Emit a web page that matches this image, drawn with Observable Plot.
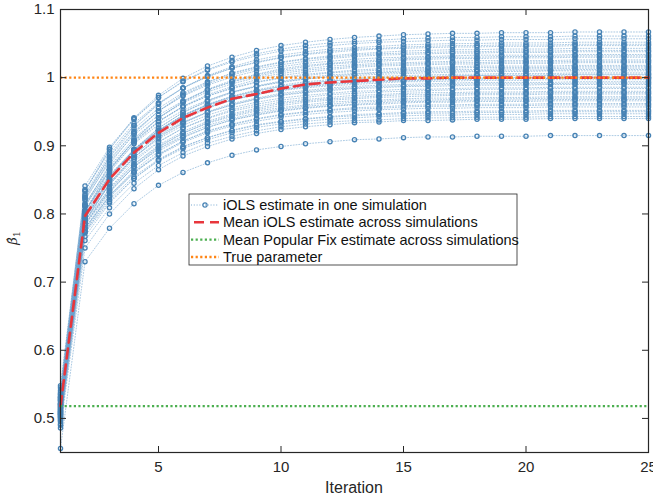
<!DOCTYPE html>
<html><head><meta charset="utf-8">
<script src="https://cdn.jsdelivr.net/npm/d3@7"></script>
<script src="https://cdn.jsdelivr.net/npm/@observablehq/plot@0.6"></script>
<style>body{margin:0;background:#fff;} svg{font-family:"Liberation Sans",Arial,Helvetica,sans-serif;}</style>
</head><body><div id="chart"></div>
<script>
const iterations = [1,2,3,4,5,6,7,8,9,10,11,12,13,14,15,16,17,18,19,20,21,22,23,24,25];
const sim01 = [0.545,0.833,0.895,0.941,0.974,0.999,1.017,1.030,1.040,1.047,1.052,1.056,1.059,1.061,1.063,1.064,1.065,1.065,1.066,1.066,1.066,1.067,1.067,1.067,1.067];
const sim02 = [0.538,0.841,0.898,0.940,0.971,0.994,1.011,1.023,1.032,1.039,1.043,1.047,1.050,1.052,1.053,1.054,1.055,1.055,1.056,1.056,1.056,1.057,1.057,1.057,1.057];
const sim03 = [0.531,0.824,0.884,0.929,0.961,0.985,1.003,1.016,1.026,1.033,1.038,1.042,1.044,1.046,1.048,1.049,1.050,1.050,1.051,1.051,1.051,1.052,1.052,1.052,1.052];
const sim04 = [0.548,0.835,0.891,0.933,0.963,0.985,1.001,1.014,1.022,1.029,1.034,1.037,1.040,1.042,1.043,1.044,1.045,1.045,1.046,1.046,1.046,1.047,1.047,1.047,1.047];
const sim05 = [0.522,0.812,0.873,0.918,0.951,0.976,0.993,1.007,1.016,1.023,1.028,1.032,1.035,1.037,1.039,1.040,1.041,1.041,1.042,1.042,1.042,1.043,1.043,1.043,1.043];
const sim06 = [0.535,0.820,0.878,0.920,0.951,0.974,0.991,1.004,1.013,1.019,1.024,1.028,1.031,1.033,1.034,1.035,1.036,1.036,1.037,1.037,1.037,1.038,1.038,1.038,1.038];
const sim07 = [0.541,0.825,0.880,0.921,0.951,0.973,0.989,1.001,1.010,1.016,1.021,1.024,1.027,1.029,1.030,1.031,1.032,1.033,1.033,1.033,1.033,1.034,1.034,1.034,1.034];
const sim08 = [0.515,0.805,0.865,0.908,0.941,0.964,0.982,0.994,1.004,1.011,1.016,1.020,1.022,1.024,1.026,1.027,1.028,1.028,1.029,1.029,1.029,1.030,1.030,1.030,1.030];
const sim09 = [0.529,0.822,0.876,0.916,0.945,0.966,0.982,0.994,1.002,1.009,1.013,1.017,1.019,1.021,1.022,1.023,1.024,1.025,1.025,1.025,1.025,1.026,1.026,1.026,1.026];
const sim10 = [0.511,0.803,0.861,0.904,0.935,0.958,0.975,0.987,0.997,1.003,1.008,1.012,1.015,1.017,1.018,1.019,1.020,1.020,1.021,1.021,1.021,1.022,1.022,1.022,1.022];
const sim11 = [0.526,0.811,0.866,0.906,0.936,0.958,0.973,0.985,0.994,1.000,1.005,1.008,1.011,1.013,1.014,1.015,1.016,1.017,1.017,1.017,1.017,1.018,1.018,1.018,1.018];
const sim12 = [0.504,0.792,0.851,0.894,0.926,0.949,0.966,0.979,0.988,0.995,1.000,1.004,1.006,1.008,1.010,1.011,1.012,1.012,1.013,1.013,1.013,1.014,1.014,1.014,1.014];
const sim13 = [0.533,0.812,0.864,0.903,0.931,0.952,0.967,0.979,0.987,0.993,0.998,1.001,1.003,1.005,1.006,1.007,1.008,1.009,1.009,1.009,1.010,1.010,1.010,1.010,1.010];
const sim14 = [0.509,0.793,0.850,0.891,0.922,0.945,0.961,0.973,0.982,0.989,0.994,0.997,1.000,1.002,1.003,1.004,1.005,1.005,1.006,1.006,1.006,1.007,1.007,1.007,1.007];
const sim15 = [0.520,0.801,0.855,0.894,0.923,0.945,0.960,0.972,0.980,0.987,0.991,0.995,0.997,0.999,1.000,1.001,1.002,1.003,1.003,1.003,1.003,1.004,1.004,1.004,1.004];
const sim16 = [0.524,0.805,0.857,0.895,0.923,0.944,0.959,0.970,0.978,0.984,0.989,0.992,0.994,0.996,0.997,0.998,0.999,1.000,1.000,1.000,1.001,1.001,1.001,1.001,1.001];
const sim17 = [0.507,0.789,0.845,0.886,0.916,0.938,0.955,0.967,0.976,0.982,0.987,0.990,0.993,0.995,0.996,0.997,0.998,0.998,0.999,0.999,0.999,1.000,1.000,1.000,1.000];
const sim18 = [0.527,0.804,0.855,0.893,0.920,0.941,0.956,0.967,0.975,0.981,0.985,0.988,0.990,0.992,0.994,0.994,0.995,0.996,0.996,0.996,0.997,0.997,0.997,0.997,0.997];
const sim19 = [0.513,0.789,0.843,0.883,0.913,0.934,0.950,0.962,0.970,0.977,0.981,0.985,0.987,0.989,0.990,0.991,0.992,0.993,0.993,0.993,0.993,0.994,0.994,0.994,0.994];
const sim20 = [0.519,0.800,0.850,0.887,0.915,0.935,0.949,0.960,0.968,0.974,0.978,0.981,0.984,0.985,0.987,0.987,0.988,0.989,0.989,0.989,0.990,0.990,0.990,0.990,0.990];
const sim21 = [0.502,0.785,0.838,0.877,0.905,0.926,0.941,0.953,0.961,0.967,0.971,0.975,0.977,0.979,0.980,0.981,0.982,0.983,0.983,0.983,0.984,0.984,0.984,0.984,0.984];
const sim22 = [0.516,0.794,0.843,0.880,0.906,0.926,0.940,0.951,0.958,0.964,0.968,0.971,0.974,0.975,0.977,0.978,0.978,0.979,0.979,0.979,0.980,0.980,0.980,0.980,0.980];
const sim23 = [0.498,0.779,0.831,0.870,0.898,0.918,0.934,0.945,0.953,0.959,0.964,0.967,0.969,0.971,0.972,0.973,0.974,0.975,0.975,0.975,0.976,0.976,0.976,0.976,0.976];
const sim24 = [0.512,0.789,0.837,0.873,0.899,0.919,0.933,0.943,0.951,0.956,0.960,0.964,0.966,0.967,0.969,0.970,0.970,0.971,0.971,0.971,0.972,0.972,0.972,0.972,0.972];
const sim25 = [0.495,0.776,0.827,0.864,0.892,0.912,0.927,0.938,0.946,0.952,0.956,0.959,0.961,0.963,0.965,0.965,0.966,0.967,0.967,0.967,0.968,0.968,0.968,0.968,0.968];
const sim26 = [0.510,0.786,0.834,0.869,0.895,0.913,0.927,0.938,0.945,0.951,0.955,0.958,0.960,0.961,0.963,0.964,0.964,0.965,0.965,0.965,0.966,0.966,0.966,0.966,0.966];
const sim27 = [0.500,0.774,0.824,0.860,0.887,0.907,0.922,0.932,0.940,0.946,0.950,0.953,0.956,0.957,0.959,0.960,0.960,0.961,0.961,0.961,0.962,0.962,0.962,0.962,0.962];
const sim28 = [0.506,0.779,0.826,0.861,0.886,0.905,0.919,0.929,0.936,0.942,0.946,0.949,0.951,0.953,0.954,0.955,0.955,0.956,0.956,0.956,0.957,0.957,0.957,0.957,0.957];
const sim29 = [0.490,0.767,0.816,0.852,0.879,0.898,0.912,0.923,0.931,0.936,0.940,0.943,0.946,0.947,0.949,0.950,0.950,0.951,0.951,0.951,0.952,0.952,0.952,0.952,0.952];
const sim30 = [0.503,0.772,0.818,0.852,0.878,0.896,0.909,0.919,0.927,0.932,0.936,0.939,0.941,0.943,0.944,0.945,0.945,0.946,0.946,0.946,0.947,0.947,0.947,0.947,0.947];
const sim31 = [0.486,0.750,0.800,0.837,0.865,0.885,0.899,0.910,0.918,0.924,0.928,0.931,0.934,0.935,0.937,0.937,0.938,0.939,0.939,0.939,0.940,0.940,0.940,0.940,0.940];
const sim32 = [0.456,0.730,0.779,0.815,0.842,0.861,0.875,0.886,0.894,0.899,0.903,0.906,0.909,0.910,0.912,0.913,0.913,0.914,0.914,0.914,0.915,0.915,0.915,0.915,0.915];
const sim33 = [0.536,0.835,0.895,0.939,0.971,0.995,1.012,1.025,1.035,1.042,1.047,1.051,1.053,1.055,1.057,1.058,1.059,1.059,1.060,1.060,1.060,1.061,1.061,1.061,1.061];
const sim34 = [0.527,0.829,0.887,0.930,0.962,0.985,1.002,1.014,1.023,1.030,1.035,1.039,1.042,1.043,1.045,1.046,1.047,1.047,1.048,1.048,1.048,1.049,1.049,1.049,1.049];
const sim35 = [0.530,0.827,0.883,0.925,0.955,0.978,0.994,1.006,1.015,1.022,1.027,1.030,1.033,1.035,1.036,1.037,1.038,1.038,1.039,1.039,1.039,1.040,1.040,1.040,1.040];
const sim36 = [0.508,0.803,0.864,0.908,0.941,0.965,0.983,0.996,1.005,1.013,1.018,1.021,1.024,1.026,1.028,1.029,1.030,1.030,1.031,1.031,1.031,1.032,1.032,1.032,1.032];
const sim37 = [0.521,0.814,0.870,0.911,0.941,0.963,0.979,0.991,1.000,1.006,1.011,1.014,1.017,1.019,1.020,1.021,1.022,1.022,1.023,1.023,1.023,1.024,1.024,1.024,1.024];
const sim38 = [0.531,0.815,0.868,0.907,0.936,0.957,0.973,0.984,0.993,0.999,1.003,1.007,1.009,1.011,1.012,1.013,1.014,1.015,1.015,1.015,1.015,1.016,1.016,1.016,1.016];
const sim39 = [0.514,0.795,0.853,0.895,0.926,0.949,0.965,0.978,0.987,0.994,0.998,1.002,1.005,1.007,1.008,1.009,1.010,1.010,1.011,1.011,1.011,1.012,1.012,1.012,1.012];
const sim40 = [0.517,0.797,0.852,0.893,0.922,0.944,0.960,0.972,0.981,0.987,0.992,0.995,0.998,1.000,1.001,1.002,1.003,1.003,1.004,1.004,1.004,1.005,1.005,1.005,1.005];
const sim41 = [0.521,0.804,0.856,0.894,0.922,0.942,0.957,0.968,0.976,0.982,0.987,0.990,0.992,0.994,0.995,0.996,0.997,0.998,0.998,0.998,0.999,0.999,0.999,0.999,0.999];
const sim42 = [0.506,0.790,0.844,0.883,0.912,0.933,0.949,0.960,0.969,0.975,0.979,0.983,0.985,0.987,0.988,0.989,0.990,0.991,0.991,0.991,0.991,0.992,0.992,0.992,0.992];
const sim43 = [0.518,0.795,0.846,0.883,0.910,0.930,0.945,0.956,0.964,0.970,0.974,0.977,0.980,0.981,0.983,0.983,0.984,0.985,0.985,0.985,0.986,0.986,0.986,0.986,0.986];
const sim44 = [0.501,0.784,0.835,0.873,0.901,0.921,0.936,0.947,0.955,0.962,0.966,0.969,0.971,0.973,0.975,0.975,0.976,0.977,0.977,0.977,0.978,0.978,0.978,0.978,0.978];
const sim45 = [0.509,0.783,0.833,0.869,0.896,0.915,0.930,0.940,0.948,0.954,0.958,0.961,0.964,0.965,0.967,0.967,0.968,0.969,0.969,0.969,0.970,0.970,0.970,0.970,0.970];
const sim46 = [0.497,0.779,0.827,0.862,0.888,0.907,0.921,0.931,0.939,0.945,0.949,0.952,0.954,0.955,0.957,0.958,0.958,0.959,0.959,0.959,0.960,0.960,0.960,0.960,0.960];
const sim47 = [0.505,0.774,0.821,0.855,0.880,0.899,0.912,0.922,0.930,0.935,0.939,0.942,0.944,0.946,0.947,0.948,0.948,0.949,0.949,0.949,0.950,0.950,0.950,0.950,0.950];
const sim48 = [0.492,0.761,0.809,0.845,0.871,0.890,0.904,0.914,0.922,0.928,0.932,0.935,0.937,0.938,0.940,0.941,0.941,0.942,0.942,0.942,0.943,0.943,0.943,0.943,0.943];
const meanIOLS = [0.518,0.797,0.851,0.890,0.919,0.941,0.956,0.969,0.976,0.984,0.990,0.993,0.995,0.997,0.999,0.999,1.000,1.000,1.000,1.000,1.000,1.000,1.000,1.000,1.000];
const popularFix = [0.518];
const trueParameter = [1];
const xTicks = [5,10,15,20,25];
const yTicks = [0.5,0.6,0.7,0.8,0.9,1,1.1];
const legendLabels = ["iOLS estimate in one simulation","Mean iOLS estimate across simulations","Mean Popular Fix estimate across simulations","True parameter"];

const BLUE = "#4682b4", LBLUE = "#6a9fcc", RED = "#e8363c", GREEN = "#4caf50", ORANGE = "#ff8515", AX = "#262626";
const simulations = [sim01,sim02,sim03,sim04,sim05,sim06,sim07,sim08,sim09,sim10,sim11,sim12,sim13,sim14,sim15,sim16,sim17,sim18,sim19,sim20,sim21,sim22,sim23,sim24,sim25,sim26,sim27,sim28,sim29,sim30,sim31,sim32,sim33,sim34,sim35,sim36,sim37,sim38,sim39,sim40,sim41,sim42,sim43,sim44,sim45,sim46,sim47,sim48];
const simRows = simulations.flatMap((s, i) => s.map((v, k) => ({sim: i, iter: iterations[k], value: v})));
const meanRows = meanIOLS.map((v, k) => ({iter: iterations[k], value: v}));
const X0 = 1, X1 = 25, Y0 = 0.45, Y1 = 1.1;
const tyLen = 6 / 443 * (Y1 - Y0), txLen = 6 / 588 * (X1 - X0);

const chart = Plot.plot({
  width: 653, height: 495,
  marginLeft: 60, marginRight: 5, marginTop: 9, marginBottom: 43,
  x: {domain: [X0, X1]},
  y: {domain: [Y0, Y1]},
  style: {fontFamily: '"Liberation Sans", Arial, sans-serif', fontSize: "15px", color: AX, background: "white", overflow: "visible"},
  marks: [
    Plot.line(simRows, {x: "iter", y: "value", z: "sim", stroke: LBLUE, strokeWidth: 0.8, strokeDasharray: "1 1.8", strokeOpacity: 0.7}),
    Plot.dot(simRows, {x: "iter", y: "value", r: 2.1, stroke: BLUE, strokeWidth: 1.3, fill: "none"}),
    Plot.line(meanRows, {x: "iter", y: "value", stroke: RED, strokeWidth: 2.6, strokeDasharray: "10 6"}),
    Plot.ruleY(popularFix, {y: d => d, x1: X0, x2: X1, stroke: GREEN, strokeWidth: 2.3, strokeDasharray: "2.2 2.4"}),
    Plot.ruleY(trueParameter, {y: d => d, x1: X0, x2: X1, stroke: ORANGE, strokeWidth: 2.3, strokeDasharray: "2.2 2.4"}),
    Plot.ruleX(xTicks, {x: d => d, y1: Y0, y2: Y0 + tyLen, stroke: AX, strokeWidth: 1}),
    Plot.ruleX(xTicks, {x: d => d, y1: Y1, y2: Y1 - tyLen, stroke: AX, strokeWidth: 1}),
    Plot.ruleY(yTicks, {y: d => d, x1: X0, x2: X0 + txLen, stroke: AX, strokeWidth: 1}),
    Plot.ruleY(yTicks, {y: d => d, x1: X1, x2: X1 - txLen, stroke: AX, strokeWidth: 1}),
    Plot.frame({stroke: AX, strokeWidth: 1.2}),
    Plot.axisX({ticks: xTicks, tickSize: 0, tickPadding: 9, label: null, tickFormat: d => String(d)}),
    Plot.axisY({ticks: yTicks, tickSize: 0, tickPadding: 6, label: null, tickFormat: d => String(d)})
  ]
});
document.getElementById("chart").appendChild(chart);

const svg = d3.select(chart);
svg.append("text").attr("x", 354).attr("y", 493).attr("text-anchor", "middle")
  .attr("font-size", 16).attr("fill", AX).text("Iteration");
const yl = svg.append("text").attr("transform", "translate(17,238) rotate(-90)").attr("text-anchor", "middle")
  .attr("font-size", 13).attr("fill", AX).attr("font-family", '"DejaVu Serif", serif');
yl.append("tspan").attr("font-style", "italic").text("β\u0302");
yl.append("tspan").attr("font-size", 9).attr("dy", 3).text("1");

const lg = svg.append("g").attr("transform", "translate(189,194)");
lg.append("rect").attr("width", 328).attr("height", 71).attr("fill", "white").attr("stroke", AX).attr("stroke-width", 0.8);
const rowY = [11, 28.3, 45.6, 63];
const sx0 = 2, sx1 = 30;
function seg(y, color, w, dash, x0) {
  lg.append("line").attr("x1", x0).attr("x2", sx1).attr("y1", y).attr("y2", y)
    .attr("fill", "none").attr("stroke", color).attr("stroke-width", w).attr("stroke-dasharray", dash);
}
seg(rowY[0], LBLUE, 0.9, "1 1.8", sx0);
lg.append("circle").attr("cx", (sx0 + sx1) / 2).attr("cy", rowY[0]).attr("r", 2.1).attr("fill", "none").attr("stroke", BLUE).attr("stroke-width", 1.2);
seg(rowY[1], RED, 2.6, "10 6", sx0 + 3);
seg(rowY[2], GREEN, 2.3, "2.2 2.4", sx0);
seg(rowY[3], ORANGE, 2.3, "2.2 2.4", sx0);
legendLabels.forEach((t, i) => {
  lg.append("text").attr("x", 34).attr("y", rowY[i]).attr("dy", "0.35em").attr("text-anchor", "start")
    .attr("font-size", 14.5).attr("fill", "#111").text(t);
});
</script>
</body></html>
